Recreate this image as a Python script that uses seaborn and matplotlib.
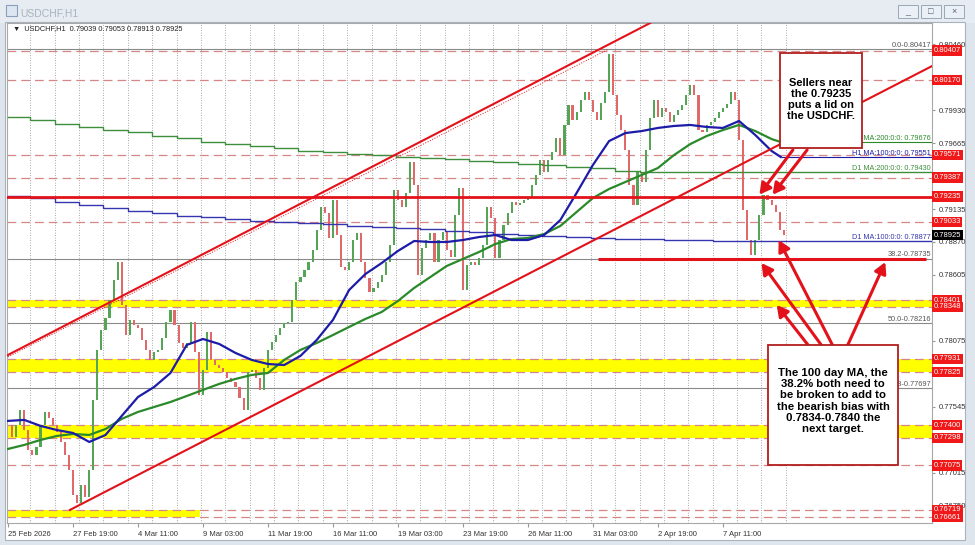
import numpy as np
import pandas as pd
import seaborn as sns
import matplotlib.pyplot as plt
import matplotlib.transforms as mtransforms
from matplotlib.patches import Rectangle

plt.rcParams['font.family'] = ['Liberation Sans', 'DejaVu Sans']

# ---- data (H1 bars, bar 0 = 25 Feb 03:00) ----
candle_step = 4  # closes sampled every 4 hourly bars
closes = [
    0.77401, 0.77304, 0.77401, 0.77521, 0.77360, 0.77200, 0.77160, 0.77224, 0.77401, 0.77505,
    0.77457, 0.77401, 0.77344, 0.77264, 0.77160, 0.77039, 0.76839, 0.76774, 0.76919, 0.76822,
    0.77039, 0.77601, 0.78003, 0.78163, 0.78260, 0.78404, 0.78565, 0.78710, 0.78364, 0.78123,
    0.78244, 0.78204, 0.78180, 0.78083, 0.78003, 0.77923, 0.77987, 0.78003, 0.78099, 0.78228,
    0.78324, 0.78204, 0.78059, 0.78019, 0.78059, 0.78228, 0.77987, 0.77642, 0.77842, 0.78147,
    0.77923, 0.77882, 0.77858, 0.77826, 0.77778, 0.77746, 0.77706, 0.77617, 0.77521, 0.77826,
    0.77842, 0.77778, 0.77682, 0.77858, 0.78003, 0.78067, 0.78123, 0.78180, 0.78220, 0.78228,
    0.78404, 0.78549, 0.78589, 0.78645, 0.78710, 0.78806, 0.78966, 0.79151, 0.79103, 0.78902,
    0.79207, 0.78926, 0.78669, 0.78645, 0.78710, 0.78886, 0.78942, 0.78710, 0.78581, 0.78469,
    0.78501, 0.78549, 0.78605, 0.78710, 0.78846, 0.79288, 0.79207, 0.79151, 0.79264, 0.79513,
    0.79328, 0.78605, 0.78822, 0.78886, 0.78942, 0.78710, 0.78886, 0.78950, 0.78806, 0.78750,
    0.79087, 0.79304, 0.78485, 0.78685, 0.78710, 0.78685, 0.78742, 0.78846, 0.79151, 0.79063,
    0.78742, 0.78886, 0.79007, 0.79103, 0.79191, 0.79167, 0.79183, 0.79207, 0.79231, 0.79328,
    0.79408, 0.79529, 0.79432, 0.79529, 0.79593, 0.79705, 0.79569, 0.79810, 0.79970, 0.79850,
    0.79914, 0.80010, 0.80075, 0.80010, 0.79914, 0.79850, 0.79986, 0.80075, 0.80380, 0.80050,
    0.79890, 0.79769, 0.79609, 0.79328, 0.79167, 0.79432, 0.79352, 0.79609, 0.79866, 0.80010,
    0.79874, 0.79946, 0.79914, 0.79834, 0.79890, 0.79930, 0.79970, 0.80050, 0.80131, 0.80050,
    0.79769, 0.79753, 0.79810, 0.79834, 0.79866, 0.79914, 0.79946, 0.79978, 0.80075, 0.80010,
    0.79689, 0.79127, 0.78886, 0.78766, 0.78886, 0.79087, 0.79247, 0.79207, 0.79167, 0.79111,
    0.78966, 0.78925,
]

ma_hours = list(range(0, 753, 16)) + [761]
h1_ma100 = [
    0.77433, 0.77441, 0.77393, 0.77360, 0.77336, 0.77264, 0.77320, 0.77473, 0.77625, 0.77706,
    0.77818, 0.78043, 0.78091, 0.78051, 0.77979, 0.77923, 0.77890, 0.77882, 0.77955, 0.78083,
    0.78244, 0.78485, 0.78613, 0.78701, 0.78798, 0.78878, 0.78870, 0.78870, 0.78886, 0.78910,
    0.78926, 0.78886, 0.78886, 0.78926, 0.79047, 0.79264, 0.79488, 0.79681, 0.79745, 0.79761,
    0.79786, 0.79802, 0.79810, 0.79794, 0.79786, 0.79842, 0.79729, 0.79601, 0.79553,
]
h1_ma200 = [
    0.77208, 0.77240, 0.77280, 0.77312, 0.77328, 0.77320, 0.77368, 0.77449, 0.77505, 0.77545,
    0.77585, 0.77633, 0.77682, 0.77730, 0.77770, 0.77802, 0.77818, 0.77923, 0.78003, 0.78059,
    0.78123, 0.78188, 0.78252, 0.78308, 0.78396, 0.78501, 0.78589, 0.78677, 0.78734, 0.78790,
    0.78854, 0.78894, 0.78902, 0.78934, 0.78999, 0.79111, 0.79223, 0.79296, 0.79352, 0.79408,
    0.79464, 0.79569, 0.79657, 0.79721, 0.79769, 0.79810, 0.79761, 0.79697, 0.79673,
]

day_starts = [0] + [22 + 24 * k for k in range(31)]
d1_ma200 = [
    0.79876, 0.79850, 0.79815, 0.79791, 0.79769, 0.79751, 0.79723, 0.79703, 0.79675, 0.79657,
    0.79641, 0.79622, 0.79603, 0.79590, 0.79580, 0.79568, 0.79556, 0.79545, 0.79533, 0.79520,
    0.79510, 0.79498, 0.79487, 0.79476, 0.79464, 0.79440, 0.79436, 0.79433, 0.79432, 0.79431,
    0.79430, 0.79430,
]
d1_ma100 = [
    0.79242, 0.79221, 0.79189, 0.79167, 0.79140, 0.79121, 0.79100, 0.79078, 0.79068, 0.79052,
    0.79038, 0.79028, 0.79025, 0.79014, 0.78998, 0.78990, 0.78982, 0.78974, 0.78958, 0.78950,
    0.78934, 0.78926, 0.78918, 0.78910, 0.78902, 0.78894, 0.78894, 0.78886, 0.78886, 0.78882,
    0.78880, 0.78877,
]
ma_tags = ["H1 MA:200:0:0: 0.79676", "H1 MA:100:0:0: 0.79551",
           "D1 MA:200:0:0: 0.79430", "D1 MA:100:0:0: 0.78877"]

dashed_levels = [0.80407, 0.80170, 0.79571, 0.79387, 0.79033, 0.78401, 0.78348,
                 0.77931, 0.77825, 0.77400, 0.77298, 0.77075, 0.76719, 0.76661]
yellow_zones = [(0.78348, 0.78401), (0.77825, 0.77931), (0.77298, 0.77400)]
left_zone = (0.76661, 0.76719)
key_level = 0.79235
last_price = 0.78925
fib_names = ["0.0", "38.2", "50.0", "61.8"]
fib_levels = [0.80417, 0.78735, 0.78216, 0.77697]

upper_channel = [(0, 0.77963), (600, 0.80492)]
lower_channel = [(61, 0.76718), (910, 0.80283)]
fib_trend = [(0, 0.77947), (591, 0.80417)]

# price scale labels that are not hidden behind the red tags
price_ticks = [0.80460, 0.79930, 0.79665, 0.79135, 0.78870, 0.78605,
               0.78075, 0.77545, 0.77015, 0.76750]
time_ticks = [0, 64, 128, 192, 256, 320, 384, 448, 512, 576, 640, 704]
time_labels = ["25 Feb 2026", "27 Feb 19:00", "4 Mar 11:00", "9 Mar 03:00", "11 Mar 19:00",
               "16 Mar 11:00", "19 Mar 03:00", "23 Mar 19:00", "26 Mar 11:00", "31 Mar 03:00",
               "2 Apr 19:00", "7 Apr 11:00"]

RED = '#e3121a'
GREEN = '#2a8a2a'
BLUE = '#1c1ca8'

# ---- window chrome ----
W, H = 975, 545
fig = plt.figure(figsize=(W / 100, H / 100), dpi=100)
fig.patch.set_facecolor('#dfe5ec')


def px_box(x, y, w, h, **kw):
    return Rectangle((x / W, 1 - (y + h) / H), w / W, h / H,
                     transform=fig.transFigure, zorder=-1, **kw)


fig.add_artist(px_box(0, 0, W, 23, facecolor='#e7ecf2', edgecolor='none'))
fig.add_artist(px_box(5, 22, 960, 518, facecolor='white', edgecolor='#a9b3be', lw=0.8))
fig.add_artist(px_box(6, 5, 11, 11, facecolor='#dbe6f1', edgecolor='#8aa0b8', lw=0.8))
fig.text(20 / W, 1 - 13 / H, "USDCHF,H1", fontsize=7.5, color='#a9b3bd', va='center')
for bx, sym in zip([898, 921, 944], ['_', '□', '×']):
    fig.add_artist(px_box(bx, 5, 20, 13, facecolor='#eaf0f5', edgecolor='#9aa8b6', lw=0.7))
    fig.text((bx + 10) / W, 1 - 11.5 / H, sym, fontsize=6.5, color='#55606c',
             ha='center', va='center')

ax = fig.add_axes([7 / W, 1 - 523 / H, 925 / W, 500 / H])
ax.set_facecolor('white')
ax.set_xlim(-1, 910)
ax.set_ylim(0.76613, 0.80629)

# vertical daily grid
for b in range(22, 767, 24):
    ax.axvline(b, color='#8e8e8e', lw=0.6, ls=(0, (1, 2)), zorder=0.5)

# zones and levels
for lo, hi in yellow_zones:
    ax.axhspan(lo, hi, color='#ffff00', lw=0, zorder=1)
ax.fill_between([0, 189], left_zone[0], left_zone[1], color='#ffff00', lw=0, zorder=1)
for lv in dashed_levels:
    ax.axhline(lv, color='#d58686', lw=0.9, ls=(0, (7, 4)), zorder=1.5)
for lv in fib_levels:
    ax.axhline(lv, color='#8a8a8a', lw=0.8, zorder=1.6)

# candles
c = np.array(closes)
o = np.concatenate([[closes[0]], c[:-1]])
xc = np.arange(len(c)) * candle_step
ax.bar(xc, np.maximum(np.abs(c - o), 0.00002), bottom=np.minimum(o, c), width=2.1,
       color=np.where(c >= o, '#56a556', '#e06a6a'), linewidth=0, zorder=3)

# moving averages
df_h1 = pd.DataFrame({'hour': ma_hours, 'ma100': h1_ma100, 'ma200': h1_ma200})
sns.lineplot(data=df_h1, x='hour', y='ma200', color=GREEN, lw=1.6, ax=ax,
             legend=False, estimator=None, zorder=4)
sns.lineplot(data=df_h1, x='hour', y='ma100', color=BLUE, lw=1.6, ax=ax,
             legend=False, estimator=None, zorder=4)
ax.hlines([h1_ma200[-1]], ma_hours[-1], 910, color=GREEN, lw=0.8, zorder=4)
ax.hlines([h1_ma100[-1]], ma_hours[-1], 910, color=BLUE, lw=0.8, zorder=4)

df_d1 = pd.DataFrame({'hour': day_starts + [910],
                      'ma200': d1_ma200 + [d1_ma200[-1]],
                      'ma100': d1_ma100 + [d1_ma100[-1]]})
sns.lineplot(data=df_d1, x='hour', y='ma200', color='#3d8f3d', lw=1.0, ax=ax,
             legend=False, estimator=None, drawstyle='steps-post', zorder=3.5)
sns.lineplot(data=df_d1, x='hour', y='ma100', color='#3535b0', lw=1.0, ax=ax,
             legend=False, estimator=None, drawstyle='steps-post', zorder=3.5)

# trend lines and key levels
ax.axline(upper_channel[0], upper_channel[1], color=RED, lw=1.5, zorder=5)
ax.plot(*zip(*lower_channel), color=RED, lw=1.5, zorder=5)
ax.plot(*zip(*fib_trend), color=RED, lw=0.7, ls=':', zorder=5)
ax.axhline(key_level, color=RED, lw=2.0, zorder=5)
ax.hlines(fib_levels[1], 581, 904, color=RED, lw=2.2, zorder=5)

trans = mtransforms.blended_transform_factory(ax.transAxes, ax.transData)
for name, lv in zip(fib_names, fib_levels):
    ax.text(0.999, lv + 0.00003, f"{name}-{lv:.5f}", transform=trans, ha='right',
            va='bottom', fontsize=5.3, color='#555555', zorder=6)
tag_colors = [GREEN, BLUE, '#3d8f3d', '#3535b0']
tag_vals = [h1_ma200[-1], h1_ma100[-1], d1_ma200[-1], d1_ma100[-1]]
for txt, val, col in zip(ma_tags, tag_vals, tag_colors):
    ax.text(0.999, val + 0.00003, txt, transform=trans, ha='right', va='bottom',
            fontsize=5.2, color=col, zorder=6)

# arrows (tail -> head)
arrows = [
    ((773, 0.79609), (740, 0.79250)),
    ((787, 0.79609), (753, 0.79250)),
    ((812, 0.78042), (759, 0.78886)),
    ((801, 0.78042), (742, 0.78701)),
    ((788, 0.78042), (757, 0.78364)),
    ((827, 0.78042), (864, 0.78709)),
]
for tail, head in arrows:
    ax.annotate('', xy=head, xytext=tail,
                arrowprops=dict(arrowstyle='-|>,head_length=0.55,head_width=0.3',
                                color=RED, lw=2.2, shrinkA=0, shrinkB=0,
                                mutation_scale=12),
                zorder=6)

# annotation boxes
ax.add_patch(Rectangle((0.8357, 0.75), 0.0886, 0.19, transform=ax.transAxes,
                       facecolor='white', edgecolor='#b21e1e', lw=1.3, zorder=8))
ax.text(0.880, 0.847, "Sellers near\nthe 0.79235\nputs a lid on\nthe USDCHF.",
        transform=ax.transAxes, ha='center', va='center', fontsize=8,
        fontweight='bold', linespacing=1.1, zorder=9)
ax.add_patch(Rectangle((0.8227, 0.116), 0.1405, 0.24, transform=ax.transAxes,
                       facecolor='white', edgecolor='#b21e1e', lw=1.3, zorder=8))
ax.text(0.893, 0.244,
        "The 100 day MA, the\n38.2% both need to\nbe broken to add to\n"
        "the bearish bias with\n0.7834-0.7840 the\nnext target.",
        transform=ax.transAxes, ha='center', va='center', fontsize=8.2,
        fontweight='bold', linespacing=1.15, zorder=9)

ax.text(0.006, 0.988, "▼  USDCHF,H1  0.79039 0.79053 0.78913 0.78925",
        transform=ax.transAxes, ha='left', va='center', fontsize=5.3,
        color='#222222', zorder=9)

# axes styling
ax.set_xlabel('')
ax.set_ylabel('')
ax.yaxis.tick_right()
ax.set_yticks(price_ticks)
ax.set_yticklabels([f"{t:.5f}" for t in price_ticks])
ax.set_xticks(time_ticks)
ax.set_xticklabels(time_labels, ha='left')
ax.tick_params(axis='y', labelsize=5.5, labelcolor='#333333', color='#999999',
               length=2, pad=3)
ax.tick_params(axis='x', labelsize=5.5, labelcolor='#333333', color='#999999',
               length=3, pad=3)
for sp in ax.spines.values():
    sp.set_color('#a8a8a8')
    sp.set_linewidth(0.8)

# right-hand price tags
for lv in dashed_levels + [key_level]:
    ax.text(1.0015, lv, f"{lv:.5f}", transform=trans, ha='left', va='center',
            fontsize=5.5, color='white', clip_on=False, zorder=10,
            bbox=dict(boxstyle='square,pad=0.22', fc='#f01818', ec='none'))
ax.text(1.0015, last_price, f"{last_price:.5f}", transform=trans, ha='left',
        va='center', fontsize=5.5, color='white', clip_on=False, zorder=10,
        bbox=dict(boxstyle='square,pad=0.22', fc='black', ec='none'))

fig.savefig('out.png', dpi=100)
